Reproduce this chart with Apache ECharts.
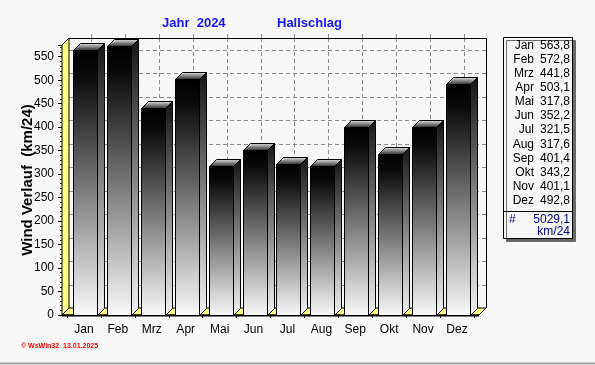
<!DOCTYPE html>
<html>
<head>
<meta charset="utf-8">
<script src="https://cdn.jsdelivr.net/npm/echarts@6/dist/echarts.min.js"></script>
<style>
html,body{margin:0;padding:0;background:#f7f7f7;}
#c{width:595px;height:365px;}
</style>
</head>
<body>
<div id="c"></div>
<script>
const months = ['Jan','Feb','Mrz','Apr','Mai','Jun','Jul','Aug','Sep','Okt','Nov','Dez'];
const values = [563.8,572.8,441.8,503.1,317.8,352.2,321.5,317.6,401.4,343.2,401.1,492.8];
const yMin = 0, yMax = 575, yStep = 50;
const gridValues = [50,100,150,200,250,300,350,400,450,500,550];
const titleLeft = 'Jahr  2024';
const titleRight = 'Hallschlag';
const yName = 'Wind Verlauf  (km/24)';
const unit = 'km/24';
const footer = '\u00A9 WsWin32  13.01.2025';

const FONT = '"Liberation Sans", Arial, sans-serif';
const D = 7; // 3D depth
const BG = '#f7f7f7';
const YEL = '#ffff80';

const fmt = v => v.toFixed(1).replace('.', ',');
const total = values.reduce((a, b) => a + b, 0);

const chart = echarts.init(document.getElementById('c'), null, {renderer: 'canvas'});

function wallsItem(params, api) {
  const cs = params.coordSys;
  const L = cs.x - 5, R = cs.x + cs.width + 5, T = cs.y, B = cs.y + cs.height;
  const ch = [];
  ch.push({type: 'rect', shape: {x: L + D, y: T - D, width: R - L, height: B - T},
    style: {fill: BG, stroke: null}});
  gridValues.forEach(v => {
    const p = api.coord([0, v]);
    const y = Math.round(p[1] - D) + 0.5;
    ch.push({type: 'line', shape: {x1: L + D, y1: y, x2: R + D, y2: y},
      style: {stroke: '#8c8c8c', lineWidth: 1, lineDash: [4, 3]}});
  });
  months.forEach((m, i) => {
    const p = api.coord([i, 0]);
    const x = Math.round(p[0] + D) + 0.5;
    ch.push({type: 'line', shape: {x1: x, y1: T - D, x2: x, y2: B - D},
      style: {stroke: '#8c8c8c', lineWidth: 1, lineDash: [4, 3]}});
    ch.push({type: 'line', shape: {x1: x, y1: T - D - 4, x2: x, y2: T - D},
      style: {stroke: '#8c8c8c', lineWidth: 1}});
  });
  ch.push({type: 'polyline', shape: {points: [[L + D, T - D + 0.5], [R + D + 0.5, T - D + 0.5], [R + D + 0.5, B - D]]},
    style: {stroke: '#000', lineWidth: 1, fill: null}});
  ch.push({type: 'polygon', shape: {points: [[L, T], [L + D, T - D], [L + D, B - D], [L, B]]},
    style: {fill: YEL, stroke: '#000', lineWidth: 1}});
  ch.push({type: 'polygon', shape: {points: [[L, B], [L + D, B - D], [R + D, B - D], [R, B]]},
    style: {fill: YEL, stroke: '#000', lineWidth: 1}});
  ch.push({type: 'line', shape: {x1: L, y1: B + 0.5, x2: R, y2: B + 0.5},
    style: {stroke: '#000', lineWidth: 2}});
  return {type: 'group', children: ch};
}

function barItem(params, api) {
  const i = api.value(0), v = api.value(1);
  const top = api.coord([i, v]);
  const bot = api.coord([i, 0]);
  const w = Math.round(api.size([1, 0])[0] * 0.7);
  const x0 = Math.round(top[0] - w / 2 + 1) + 0.5;
  const x1 = x0 + w;
  const ty = Math.round(top[1]) + 0.5;
  const by = Math.round(bot[1]) + 0.5;
  const G = echarts.graphic.LinearGradient;
  return {type: 'group', children: [
    {type: 'polygon', shape: {points: [[x1, ty], [x1 + D, ty - D], [x1 + D, by - D], [x1, by]]},
      style: {fill: new G(0, 0, 0, 1, [{offset: 0, color: '#141414'}, {offset: 1, color: '#f4f4f4'}]),
        stroke: '#000', lineWidth: 1}},
    {type: 'polygon', shape: {points: [[x0, ty], [x0 + D, ty - D], [x1 + D, ty - D], [x1, ty]]},
      style: {fill: new G(0, 0, 0, 1, [{offset: 0, color: '#e8e8e8'}, {offset: 1, color: '#202020'}]),
        stroke: '#000', lineWidth: 1}},
    {type: 'rect', shape: {x: x0, y: ty, width: w, height: by - ty},
      style: {fill: new G(0, 0, 0, 1, [{offset: 0, color: '#000000'}, {offset: 0.1, color: '#0a0a0a'}, {offset: 1, color: '#fafafa'}]),
        stroke: '#000', lineWidth: 1}}
  ]};
}

const legendX = 503, legendY = 37, legendW = 69, legendH = 201;
const gfx = [];
gfx.push({type: 'rect', shape: {x: legendX + 0.5, y: legendY + 0.5, width: legendW, height: legendH},
  style: {fill: BG, stroke: '#000', lineWidth: 1, shadowColor: '#6a6a6a', shadowOffsetX: 3, shadowOffsetY: 3, shadowBlur: 0}, z: 10});
months.forEach((m, i) => {
  const y = 45.5 + i * 14.1;
  gfx.push({type: 'text', x: 534, y: y, z: 11,
    style: {text: m, textAlign: 'right', textVerticalAlign: 'middle', fill: '#000', font: '12px ' + FONT}});
  gfx.push({type: 'text', x: 570, y: y, z: 11,
    style: {text: fmt(values[i]), textAlign: 'right', textVerticalAlign: 'middle', fill: '#000', font: '12px ' + FONT}});
});
gfx.push({type: 'line', shape: {x1: legendX, y1: 211.5, x2: legendX + legendW, y2: 211.5},
  style: {stroke: '#000', lineWidth: 1}, z: 11});
gfx.push({type: 'text', x: 509, y: 219.5, z: 11,
  style: {text: '#', textAlign: 'left', textVerticalAlign: 'middle', fill: '#000080', font: '12px ' + FONT}});
gfx.push({type: 'text', x: 570, y: 219.5, z: 11,
  style: {text: fmt(total), textAlign: 'right', textVerticalAlign: 'middle', fill: '#000080', font: '12px ' + FONT}});
gfx.push({type: 'text', x: 570, y: 232, z: 11,
  style: {text: unit, textAlign: 'right', textVerticalAlign: 'middle', fill: '#000080', font: '12px ' + FONT}});
gfx.push({type: 'text', x: 21, y: 346, z: 11,
  style: {text: footer, textAlign: 'left', textVerticalAlign: 'middle', fill: '#ff0000', font: 'bold 7px ' + FONT}});
gfx.push({type: 'line', shape: {x1: 0, y1: 363.5, x2: 595, y2: 363.5},
  style: {stroke: '#a0a0a0', lineWidth: 2}, z: 11});

const option = {
  backgroundColor: BG,
  animation: false,
  title: [
    {text: titleLeft, left: 162, top: 17, padding: 0,
      textStyle: {color: '#1414ff', fontSize: 13, fontWeight: 'bold', fontFamily: FONT}},
    {text: titleRight, left: 277, top: 17, padding: 0,
      textStyle: {color: '#1414ff', fontSize: 13, fontWeight: 'bold', fontFamily: FONT}}
  ],
  grid: {left: 67, right: 121, top: 45, bottom: 50, containLabel: false},
  xAxis: {
    type: 'category', data: months,
    axisLine: {show: false},
    axisTick: {show: true, interval: 0, length: 3, lineStyle: {color: '#000'}},
    axisLabel: {color: '#000', fontSize: 12, fontFamily: FONT, margin: 9, interval: 0},
    splitLine: {show: false}
  },
  yAxis: {
    type: 'value', min: yMin, max: yMax, interval: yStep, offset: 5,
    name: yName, nameLocation: 'middle', nameGap: 27, nameMoveOverlap: false,
    nameTextStyle: {color: '#000', fontSize: 15, fontWeight: 'bold', fontFamily: FONT},
    axisLine: {show: true, lineStyle: {color: '#000', width: 1}},
    axisTick: {show: true, length: 4, lineStyle: {color: '#000'}},
    minorTick: {show: true, splitNumber: 5, length: 2, lineStyle: {color: '#000'}},
    axisLabel: {color: '#000', fontSize: 12, fontFamily: FONT, margin: 8, showMaxLabel: false},
    splitLine: {show: false}
  },
  series: [
    {type: 'custom', renderItem: wallsItem, data: [[0, 0]], clip: false, z: 1, silent: true},
    {type: 'custom', renderItem: barItem, data: values.map((v, i) => [i, v]), clip: false, z: 3,
      encode: {x: 0, y: 1}}
  ],
  graphic: gfx
};
chart.setOption(option);
</script>
</body>
</html>
